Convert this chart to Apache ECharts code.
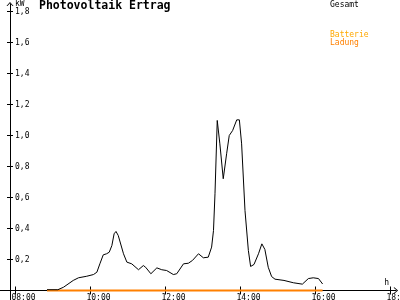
<!DOCTYPE html>
<html><head><meta charset="utf-8">
<script src="https://cdn.jsdelivr.net/npm/echarts@6/dist/echarts.min.js"></script>
<style>html,body{margin:0;padding:0;background:#fff}#c{width:400px;height:300px}</style>
</head><body><div id="c"></div>
<script>
// time in hours (decimal), value in kW
const times = [8.84, 9.13, 9.28, 9.54, 9.68, 9.90, 10.08, 10.17, 10.25, 10.34, 10.43, 10.50, 10.57, 10.63, 10.68, 10.74,
  10.88, 10.97, 11.10, 11.28, 11.41, 11.47, 11.61, 11.77, 11.90, 12.03, 12.21, 12.30, 12.48, 12.61, 12.72, 12.88,
  13.01, 13.14, 13.19, 13.23, 13.28, 13.32, 13.38, 13.45, 13.54, 13.63, 13.70, 13.79, 13.90, 13.97, 14.03, 14.12,
  14.21, 14.27, 14.36, 14.48, 14.57, 14.65, 14.74, 14.83, 14.92, 15.16, 15.41, 15.65, 15.81, 15.94, 16.08, 16.19];
const gesamt = [0.005, 0.005, 0.021, 0.065, 0.082, 0.092, 0.103, 0.118, 0.172, 0.230, 0.237, 0.247, 0.290, 0.366, 0.381, 0.355,
  0.237, 0.183, 0.172, 0.134, 0.161, 0.150, 0.108, 0.146, 0.134, 0.129, 0.103, 0.108, 0.172, 0.176, 0.194, 0.237,
  0.211, 0.215, 0.221, 0.280, 0.387, 0.624, 1.097, 0.946, 0.721, 0.882, 1.000, 1.032, 1.101, 1.101, 0.946, 0.516,
  0.258, 0.155, 0.168, 0.237, 0.301, 0.265, 0.150, 0.090, 0.073, 0.065, 0.050, 0.041, 0.077, 0.082, 0.077, 0.042];
const ladungTimes = [8.84, 16.19];
const ladung = [0, 0];
const batterie = [];
const xTicks = [8, 10, 12, 14, 16, 18];
const yTicks = [0.2, 0.4, 0.6, 0.8, 1.0, 1.2, 1.4, 1.6, 1.8];

const FONT = 'DejaVu Sans Mono';
const arrow = 'path://M5,0 L10,6 L8.6,6 L5,1.8 L1.4,6 L0,6 Z';
const X_MIN = 7.58667, X_MAX = 18.1467;
const Y_MIN = -0.06129, Y_MAX = 1.84839;

const chart = echarts.init(document.getElementById('c'), null, {renderer: 'canvas'});
const pair = (t, v) => t.map((x, i) => [x, v[i]]);
const hh = v => (v < 10 ? '0' : '') + Math.round(v) + ':00';

chart.setOption({
  animation: false,
  backgroundColor: '#fff',
  textStyle: {fontFamily: FONT},
  title: {
    text: 'Photovoltaik Ertrag', left: 39, top: 0, padding: 0,
    textStyle: {fontFamily: FONT, fontWeight: 'bold', fontSize: 11.5, color: '#000'}
  },
  legend: [
    {data: [{name: 'Gesamt', textStyle: {color: '#000'}}], left: 325, top: 1, padding: 0,
     icon: 'none', itemWidth: 0, itemHeight: 8, itemStyle: {opacity: 0}, selectedMode: false,
     textStyle: {fontFamily: FONT, fontSize: 8}},
    {data: [{name: 'Batterie', textStyle: {color: '#ffa800'}}, {name: 'Ladung', textStyle: {color: '#ff8000'}}],
     orient: 'vertical', left: 325, top: 31, padding: 0, itemGap: 0,
     icon: 'none', itemWidth: 0, itemHeight: 8, itemStyle: {opacity: 0}, selectedMode: false,
     textStyle: {fontFamily: FONT, fontSize: 8}}
  ],
  grid: {left: 0, right: 4, top: 4, bottom: 0, containLabel: false, outerBoundsMode: 'none'},
  xAxis: [
    {type: 'value', min: X_MIN, max: X_MAX, position: 'bottom',
     axisLine: {onZero: true, lineStyle: {color: '#000', width: 1}, symbol: ['none', arrow], symbolSize: [7, 6]},
     axisTick: {customValues: xTicks, length: 4, lineStyle: {color: '#000'}},
     axisLabel: {customValues: xTicks, formatter: hh, fontFamily: FONT, fontSize: 8, color: '#000', margin: -6, padding: [0, 0, 0, 16]},
     splitLine: {show: false},
     name: 'h', nameLocation: 'end', nameGap: -7,
     nameTextStyle: {fontFamily: FONT, fontSize: 8, color: '#000', align: 'right', verticalAlign: 'bottom', padding: [0, 0, 4, 0]}},
    {type: 'value', min: X_MIN, max: X_MAX, position: 'bottom',
     axisLine: {show: true, onZero: true, lineStyle: {opacity: 0}},
     axisTick: {customValues: xTicks, inside: true, length: 4, lineStyle: {color: '#000'}},
     axisLabel: {show: false}, splitLine: {show: false}}
  ],
  yAxis: [
    {type: 'value', min: Y_MIN, max: Y_MAX, position: 'left', offset: -10,
     axisLine: {show: true, onZero: false, lineStyle: {color: '#000', width: 1}, symbol: ['none', arrow], symbolSize: [7, 6]},
     axisTick: {customValues: yTicks, length: 3, lineStyle: {color: '#000'}},
     axisLabel: {customValues: yTicks, inside: true, margin: 5, fontFamily: FONT, fontSize: 8, color: '#000',
       formatter: v => v.toFixed(1).replace('.', ',')},
     splitLine: {show: false},
     name: 'kW', nameLocation: 'end', nameGap: -2,
     nameTextStyle: {fontFamily: FONT, fontSize: 8, color: '#000', align: 'left', verticalAlign: 'top', padding: [0, 0, 0, 5]}},
    {type: 'value', min: Y_MIN, max: Y_MAX, position: 'left', offset: -10,
     axisLine: {show: true, onZero: false, lineStyle: {opacity: 0}},
     axisTick: {customValues: yTicks, inside: true, length: 3, lineStyle: {color: '#000'}},
     axisLabel: {show: false}, splitLine: {show: false}}
  ],
  series: [
    {name: 'Batterie', type: 'line', data: pair([], batterie), color: '#ffa800', showSymbol: false, lineStyle: {width: 2}},
    {name: 'Ladung', type: 'line', data: pair(ladungTimes, ladung), color: '#ff8000', showSymbol: false,
     lineStyle: {width: 2, color: '#ff8000'}, z: 3},
    {name: 'Gesamt', type: 'line', data: pair(times, gesamt), color: '#000', showSymbol: false,
     lineStyle: {width: 1, color: '#000'}, z: 4}
  ]
});
</script></body></html>
